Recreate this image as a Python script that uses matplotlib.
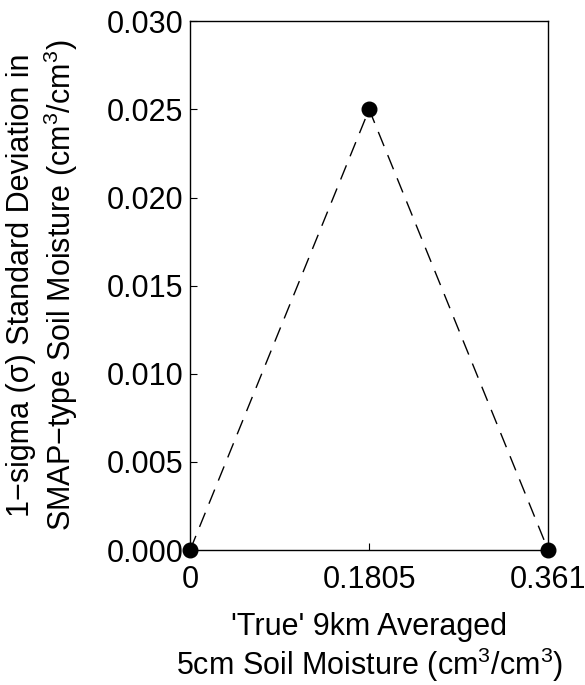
import matplotlib
matplotlib.use("Agg")
import matplotlib.pyplot as plt

plt.rcParams['font.family'] = ['Liberation Sans', 'DejaVu Sans']
plt.rcParams['mathtext.fontset'] = 'custom'
plt.rcParams['mathtext.rm'] = 'Liberation Sans'
plt.rcParams['mathtext.it'] = 'Liberation Sans'
plt.rcParams['mathtext.bf'] = 'Liberation Sans'

# data
soil_moisture = [0, 0.1805, 0.361]
std_dev = [0, 0.025, 0]
x_ticks = [0, 0.1805, 0.361]
x_tick_labels = ["0", "0.1805", "0.361"]
y_ticks = [0, 0.005, 0.010, 0.015, 0.020, 0.025, 0.030]
y_tick_labels = ["0.000", "0.005", "0.010", "0.015", "0.020", "0.025", "0.030"]

fig = plt.figure(figsize=(5.85, 6.85), dpi=100)
ax = fig.add_axes([0.325, 0.197, 0.612, 0.772])

ax.plot(soil_moisture, std_dev, color="black", linestyle=(0, (11, 7)), linewidth=1.0,
        marker="o", markersize=10.5, markerfacecolor="black", clip_on=False, zorder=5)

ax.set_xlim(0, 0.361)
ax.set_ylim(0, 0.030)
ax.set_xticks(x_ticks)
ax.set_xticklabels(x_tick_labels)
ax.set_yticks(y_ticks)
ax.set_yticklabels(y_tick_labels)
ax.tick_params(direction="in", length=5, width=0.8, labelsize=22,
               top=False, right=False)
ax.tick_params(axis="x", pad=11)
ax.tick_params(axis="y", pad=5)
for s in ax.spines.values():
    s.set_linewidth(1.0)

ax.set_xlabel("'True' 9km Averaged\n5cm Soil Moisture (cm$^3$/cm$^3$)", fontsize=22,
              linespacing=1.12, labelpad=12)
ax.set_ylabel("1\u2212sigma (\u03c3) Standard Deviation in\nSMAP\u2212type Soil Moisture (cm$^3$/cm$^3$)",
              fontsize=22, linespacing=1.2, labelpad=19)

fig.savefig("out.png", dpi=100)
